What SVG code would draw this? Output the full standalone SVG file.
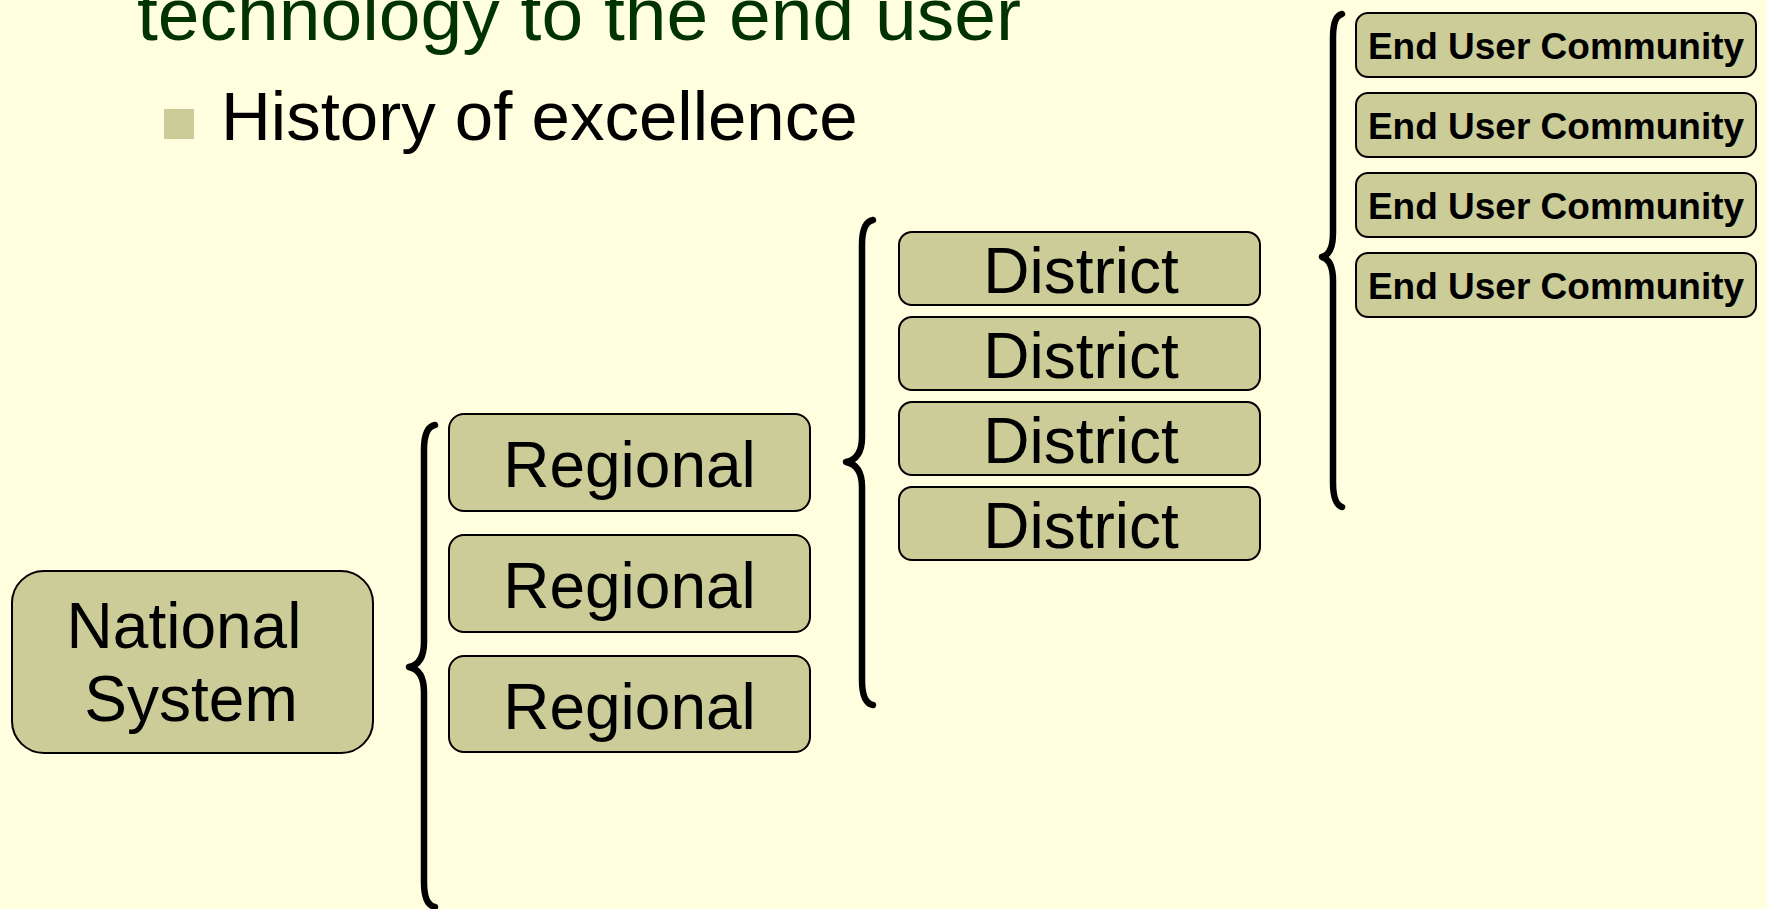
<svg xmlns="http://www.w3.org/2000/svg" width="1767" height="909" viewBox="0 0 1767 909">
  <style>
    .box { fill: #CCCC99; stroke: #000000; stroke-width: 2; }
    .lbl { font-family: "Liberation Sans", Arial, sans-serif; fill: #000000; text-anchor: middle; }
    .big { font-size: 64px; }
    .small { font-size: 37px; font-weight: bold; }
    .brace { fill: none; stroke: #000000; stroke-width: 6.5; stroke-linecap: round; stroke-linejoin: round; }
    .title { font-family: "Liberation Sans", Arial, sans-serif; font-size: 75px; fill: #003300; }
    .bullet { font-family: "Liberation Sans", Arial, sans-serif; font-size: 69px; fill: #000000; }
  </style>

  <!-- slide background -->
  <rect x="0" y="0" width="1767" height="909" fill="#FFFFE0"/>

  <!-- heading and bullet text -->
  <g id="heading">
    <text class="title" x="137" y="40">technology to the end user</text>
    <rect x="164" y="109" width="30" height="30" fill="#CCCC99"/>
    <text class="bullet" x="221" y="140">History of excellence</text>
  </g>

  <!-- braces joining each level to the next -->
  <g id="connectors">
    <path class="brace" d="M435,425 Q424,427 424,450 L424,642 Q424,664 409,667 Q424,670 424,692 L424,882 Q424,905 435,907"/>
    <path class="brace" d="M873,220 Q862,222 862,245 L862,437 Q862,459 846,462 Q862,465 862,487 L862,680 Q862,703 873,705"/>
    <path class="brace" d="M1342,14 Q1333,16 1333,38 L1333,233 Q1333,254 1322,257 Q1333,260 1333,281 L1333,482 Q1333,504 1342,507"/>
  </g>

  <!-- national level -->
  <g id="national">
    <rect class="box" x="12" y="571" width="361" height="182" rx="32"/>
    <text class="lbl big" x="184" y="648">National</text>
    <text class="lbl big" x="191" y="721">System</text>
  </g>

  <!-- regional level -->
  <g id="regional-1">
    <rect class="box" x="449" y="414" width="361" height="97" rx="15"/>
    <text class="lbl big" x="629.5" y="487">Regional</text>
  </g>
  <g id="regional-2">
    <rect class="box" x="449" y="535" width="361" height="97" rx="15"/>
    <text class="lbl big" x="629.5" y="608">Regional</text>
  </g>
  <g id="regional-3">
    <rect class="box" x="449" y="656" width="361" height="96" rx="15"/>
    <text class="lbl big" x="629.5" y="729">Regional</text>
  </g>

  <!-- district level -->
  <g id="district-1">
    <rect class="box" x="899" y="232" width="361" height="73" rx="13"/>
    <text class="lbl big" x="1081" y="293">District</text>
  </g>
  <g id="district-2">
    <rect class="box" x="899" y="317" width="361" height="73" rx="13"/>
    <text class="lbl big" x="1081" y="378">District</text>
  </g>
  <g id="district-3">
    <rect class="box" x="899" y="402" width="361" height="73" rx="13"/>
    <text class="lbl big" x="1081" y="463">District</text>
  </g>
  <g id="district-4">
    <rect class="box" x="899" y="487" width="361" height="73" rx="13"/>
    <text class="lbl big" x="1081" y="548">District</text>
  </g>

  <!-- end user level -->
  <g id="community-1">
    <rect class="box" x="1356" y="13" width="400" height="64" rx="12"/>
    <text class="lbl small" x="1556" y="59">End User Community</text>
  </g>
  <g id="community-2">
    <rect class="box" x="1356" y="93" width="400" height="64" rx="12"/>
    <text class="lbl small" x="1556" y="139">End User Community</text>
  </g>
  <g id="community-3">
    <rect class="box" x="1356" y="173" width="400" height="64" rx="12"/>
    <text class="lbl small" x="1556" y="219">End User Community</text>
  </g>
  <g id="community-4">
    <rect class="box" x="1356" y="253" width="400" height="64" rx="12"/>
    <text class="lbl small" x="1556" y="299">End User Community</text>
  </g>
</svg>
